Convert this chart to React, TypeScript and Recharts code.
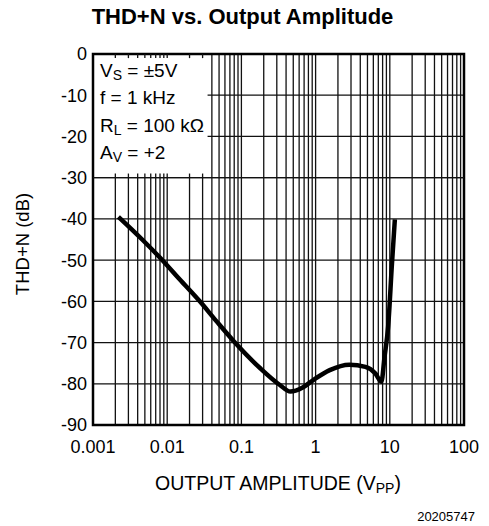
import React from "react";
import {
  LineChart,
  Line,
  XAxis,
  YAxis,
  CartesianGrid,
  ReferenceArea,
  ReferenceLine,
} from "recharts";

// output amplitude (Vpp) and THD+N (dB)
const ampVpp = [
  0.0022, 0.0046, 0.0088, 0.0148, 0.0275, 0.046, 0.08, 0.181, 0.33, 0.457,
  0.67, 0.93, 1.55, 2.85, 4.7, 6.4, 7.7, 8.5, 9.5, 10.7, 11.7,
];
const thdN = [
  -39.5, -45.0, -50.2, -54.7, -60.0, -64.8, -69.8, -76.3, -80.3, -81.9, -80.9,
  -79.1, -76.7, -75.4, -75.9, -77.5, -79.5, -73.4, -66.1, -50.8, -40.1,
];

const decades = [0.001, 0.01, 0.1, 1, 10, 100];
const decadeLabels = ["0.001", "0.01", "0.1", "1", "10", "100"];
const yTicks = [0, -10, -20, -30, -40, -50, -60, -70, -80, -90];

const legendLines = [
  { main: "V", sub: "S", rest: " = ±5V" },
  { main: "f = 1 kHz", sub: "", rest: "" },
  { main: "R", sub: "L", rest: " = 100 kΩ" },
  { main: "A", sub: "V", rest: " = +2" },
];

const data = ampVpp.map((amp, i) => ({ amp, thd: thdN[i] }));

const xTicks = [
  ...decades
    .slice(0, -1)
    .flatMap((d) =>
      [1, 2, 3, 4, 5, 6, 7, 8, 9].map((k) => Number((k * d).toPrecision(3)))
    ),
  decades[decades.length - 1],
];

const FONT = "'Liberation Sans', Arial, Helvetica, sans-serif";
const GRID = "#111";
const BOX_X2 = 0.035; // legend box covers the grid up to here
const BOX_Y = -30;

const fmtX = (v: number) => {
  const i = decades.findIndex((d) => Math.abs(d - v) / d < 1e-6);
  return i >= 0 ? decadeLabels[i] : "";
};

const boxTicks = xTicks.filter((t) => t > decades[0] && t < BOX_X2);

export default function App() {
  return (
    <div
      style={{
        position: "absolute",
        left: 0,
        top: 0,
        width: 489,
        height: 526,
        background: "#fff",
        fontFamily: FONT,
      }}
    >
      <LineChart
        width={489}
        height={526}
        data={data}
        margin={{ top: 54, right: 25, left: 0, bottom: 0 }}
      >
        <CartesianGrid stroke={GRID} strokeWidth={1.3} />
        <XAxis
          dataKey="amp"
          type="number"
          scale="log"
          domain={[0.001, 100]}
          ticks={xTicks}
          interval={0}
          tickFormatter={fmtX}
          tickLine={false}
          axisLine={false}
          tickSize={0}
          tickMargin={15}
          height={101}
          allowDataOverflow
          tick={{ fill: "#000", fontSize: 18, fontFamily: FONT }}
        />
        <YAxis
          type="number"
          domain={[-90, 0]}
          ticks={yTicks}
          interval={0}
          tickLine={false}
          axisLine={false}
          tickSize={0}
          tickMargin={6}
          width={93}
          tick={{ fill: "#000", fontSize: 18, fontFamily: FONT }}
        />
        <ReferenceArea
          x1={decades[0]}
          x2={BOX_X2}
          y1={BOX_Y}
          y2={0}
          fill="#fff"
          fillOpacity={1}
          stroke="none"
        />
        <ReferenceLine y={BOX_Y} stroke={GRID} strokeWidth={1.3} />
        {boxTicks.map((t) => (
          <ReferenceLine
            key={"top" + t}
            segment={[
              { x: t, y: 0 },
              { x: t, y: -1 },
            ]}
            stroke={GRID}
            strokeWidth={1.3}
          />
        ))}
        {boxTicks.map((t) => (
          <ReferenceLine
            key={"bot" + t}
            segment={[
              { x: t, y: BOX_Y },
              { x: t, y: BOX_Y + 1 },
            ]}
            stroke={GRID}
            strokeWidth={1.3}
          />
        ))}
        <ReferenceArea
          x1={decades[0]}
          x2={decades[decades.length - 1]}
          y1={-90}
          y2={0}
          fill="none"
          stroke="#000"
          strokeWidth={2.5}
        />
        <Line
          type="monotone"
          dataKey="thd"
          stroke="#000"
          strokeWidth={4.5}
          dot={false}
          isAnimationActive={false}
        />
      </LineChart>
      <svg
        width={489}
        height={526}
        style={{ position: "absolute", left: 0, top: 0, pointerEvents: "none" }}
        fontFamily={FONT}
      >
        <text x={242.5} y={24} textAnchor="middle" fontSize={22} fontWeight="bold">
          THD+N vs. Output Amplitude
        </text>
        <text
          transform="translate(28.5,244) rotate(-90)"
          textAnchor="middle"
          fontSize={18.5}
        >
          THD+N (dB)
        </text>
        <text x={278} y={490} textAnchor="middle" fontSize={19.5}>
          OUTPUT AMPLITUDE (V
          <tspan fontSize={14} dy={3}>
            PP
          </tspan>
          <tspan dy={-3}>)</tspan>
        </text>
        {legendLines.map((l, i) => (
          <text key={i} x={100} y={76.5 + i * 27.6} fontSize={19}>
            {l.main}
            {l.sub ? (
              <tspan fontSize={14} dy={3}>
                {l.sub}
              </tspan>
            ) : null}
            {l.rest ? <tspan dy={l.sub ? -3 : 0}>{l.rest}</tspan> : null}
          </text>
        ))}
        <text x={475} y={521} textAnchor="end" fontSize={13}>
          20205747
        </text>
      </svg>
    </div>
  );
}
